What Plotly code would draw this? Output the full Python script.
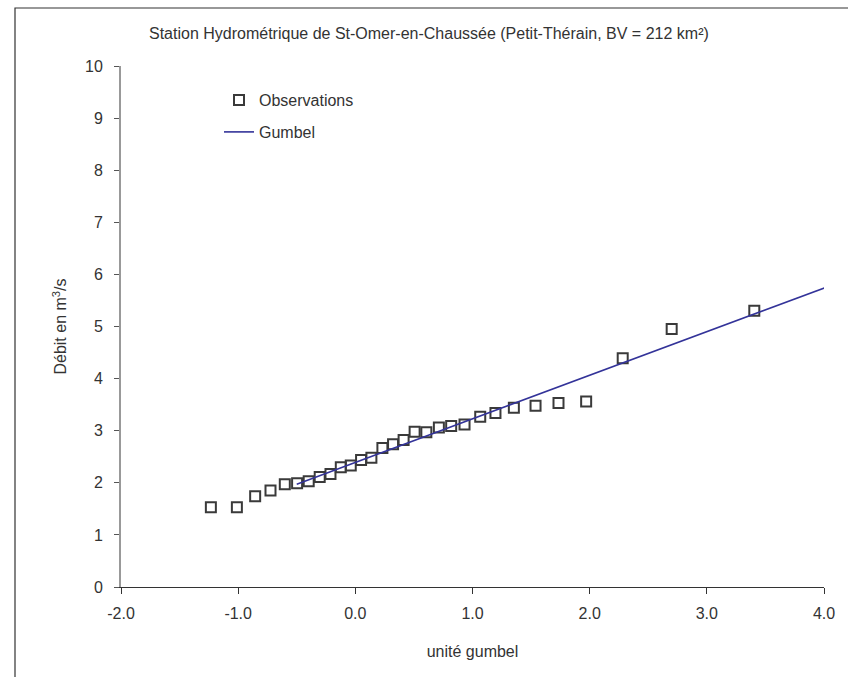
import plotly.graph_objects as go

# Observations (Gumbel reduced variate, discharge m3/s)
obs_u = [-1.233, -1.011, -0.855, -0.724, -0.602, -0.497, -0.398, -0.304, -0.212,
         -0.124, -0.039, 0.049, 0.137, 0.231, 0.322, 0.412, 0.506, 0.606, 0.713,
         0.818, 0.932, 1.066, 1.196, 1.353, 1.538, 1.734, 1.970, 2.282, 2.700, 3.405]
obs_q = [1.53, 1.53, 1.74, 1.85, 1.97, 1.99, 2.03, 2.11, 2.17,
         2.30, 2.33, 2.44, 2.48, 2.67, 2.74, 2.82, 2.98, 2.97, 3.06,
         3.09, 3.12, 3.27, 3.34, 3.44, 3.48, 3.53, 3.56, 4.39, 4.95, 5.30]

# Gumbel fitted line
gum_u = [-0.50, 0.37, 1.50, 2.25, 2.97, 4.05]
gum_q = [1.97, 2.70, 3.65, 4.28, 4.88, 5.78]

x_ticks = [-2, -1, 0, 1, 2, 3, 4]
x_labels = ["-2.0", "-1.0", "0.0", "1.0", "2.0", "3.0", "4.0"]
y_ticks = [0, 1, 2, 3, 4, 5, 6, 7, 8, 9, 10]

FONT = "Liberation Sans, Arial, sans-serif"
TXT = "#333333"

fig = go.Figure()
fig.add_trace(go.Scatter(
    x=obs_u, y=obs_q, mode="markers", name="Observations",
    marker=dict(symbol="square-open", size=10, color="#3a3a3a", line=dict(width=2, color="#3a3a3a")),
    legend="legend",
))
fig.add_trace(go.Scatter(
    x=gum_u, y=gum_q, mode="lines", name="Gumbel",
    line=dict(color="#333399", width=1.6),
    legend="legend2",
))

L, R, T, B = 121, 24, 66, 90
W, H = 848, 677
pw, ph = W - L - R, H - T - B

def px_x(p):
    return (p - L) / pw

def px_y(p):
    return (H - B - p) / ph

fig.update_layout(
    width=W, height=H,
    margin=dict(l=L, r=R, t=T, b=B),
    paper_bgcolor="white", plot_bgcolor="white",
    font=dict(family=FONT, size=16, color=TXT),
    showlegend=True,
    legend=dict(x=px_x(219), y=px_y(83), xanchor="left", yanchor="top",
                bgcolor="rgba(0,0,0,0)", font=dict(size=16, color=TXT)),
    legend2=dict(x=px_x(219), y=px_y(115), xanchor="left", yanchor="top",
                 bgcolor="rgba(0,0,0,0)", font=dict(size=16, color=TXT)),
    xaxis=dict(range=[-2, 4], tickvals=x_ticks, ticktext=x_labels,
               ticks="outside", ticklen=6, tickcolor="#333", tickwidth=1,
               showline=True, linecolor="#333", linewidth=1,
               showgrid=False, zeroline=False, ticklabelstandoff=6,
               tickfont=dict(size=16, color=TXT),
               title=dict(text="unité gumbel", font=dict(size=16, color=TXT), standoff=24)),
    xaxis2=dict(range=[-2, 4], tickvals=x_ticks, overlaying="x", anchor="y", side="bottom",
                ticks="inside", ticklen=6, tickcolor="#333", tickwidth=1,
                showticklabels=False, showline=False, showgrid=False, zeroline=False),
    yaxis=dict(range=[0, 10], tickvals=y_ticks,
               ticks="outside", ticklen=5, tickcolor="#555", tickwidth=1,
               showline=True, linecolor="#999", linewidth=2,
               showgrid=False, zeroline=False, ticklabelstandoff=8,
               tickfont=dict(size=16, color=TXT),
               title=dict(text="Débit en m<sup>3</sup>/s", font=dict(size=16, color=TXT), standoff=14)),
    annotations=[dict(
        text="Station Hydrométrique de St-Omer-en-Chaussée (Petit-Thérain, BV = 212 km²)",
        xref="paper", yref="paper", x=px_x(429), y=px_y(33),
        xanchor="center", yanchor="middle", showarrow=False,
        font=dict(size=16, color=TXT))],
    shapes=[dict(type="rect", xref="paper", yref="paper",
                 x0=px_x(15), x1=px_x(900), y0=px_y(730), y1=px_y(8),
                 line=dict(color="#333", width=1.2), fillcolor="rgba(0,0,0,0)", layer="below")],
)

fig.write_html("out.html")
